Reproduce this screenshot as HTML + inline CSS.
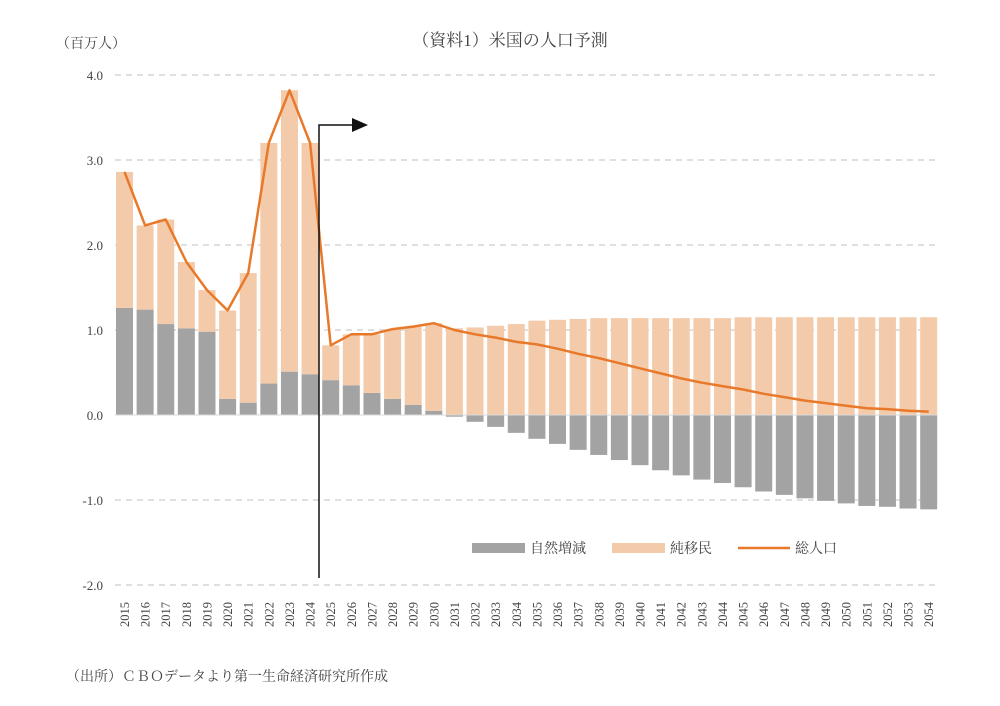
<!DOCTYPE html>
<html><head><meta charset="utf-8">
<style>
html,body{margin:0;padding:0;background:#fff;}
svg{display:block;}
text{font-family:"Liberation Serif","Noto Serif CJK SC","Noto Serif CJK JP",serif;fill:#444;}
</style></head>
<body>
<svg id="c" width="1000" height="706" viewBox="0 0 1000 706" xmlns="http://www.w3.org/2000/svg">
<text x="510" y="46" font-size="17" text-anchor="middle">（資料1）米国の人口予測</text>
<text x="56" y="48" font-size="14">（百万人）</text>
<text x="66" y="681" font-size="14">（出所）ＣＢＯデータより第一生命経済研究所作成</text>
<g id="g"></g>
<rect x="472" y="543" width="53" height="10" fill="#a3a3a3"/>
<text x="530" y="553" font-size="14">自然増減</text>
<rect x="612" y="543" width="53" height="10" fill="#f4cbaa"/>
<text x="670" y="553" font-size="14">純移民</text>
<line x1="738" y1="548" x2="790" y2="548" stroke="#e8792b" stroke-width="2.5"/>
<text x="795" y="553" font-size="14">総人口</text>
</svg>
<script>
var NS="http://www.w3.org/2000/svg",g=document.getElementById('g');
function el(t,a,txt){var e=document.createElementNS(NS,t);for(var k in a)e.setAttribute(k,a[k]);if(txt!=null)e.textContent=txt;g.appendChild(e);return e;}
var Y0=415,S=85,X0=124.5,D=20.62,W=17;
function y(v){return Y0-v*S;}
[4,3,2,1,-1,-2].forEach(function(v){el('line',{x1:115,x2:937,y1:y(v),y2:y(v),stroke:'#ccc','stroke-width':1.2,'stroke-dasharray':'6,5'});
 el('text',{x:103,y:y(v)+5,'font-size':13,'text-anchor':'end'},(v<0?'-':'')+Math.abs(v).toFixed(1));});
el('text',{x:103,y:y(0)+5,'font-size':13,'text-anchor':'end'},'0.0');
var nat=[1.26,1.24,1.07,1.02,0.98,0.19,0.145,0.37,0.51,0.48,0.41,0.35,0.26,0.19,0.12,0.05,
-0.02,-0.08,-0.14,-0.21,-0.28,-0.34,-0.41,-0.47,-0.53,-0.59,-0.65,-0.71,-0.76,-0.80,-0.85,-0.90,-0.94,-0.98,-1.01,-1.04,-1.07,-1.08,-1.10,-1.11];
var tot=[2.86,2.23,2.30,1.80,1.47,1.23,1.67,3.20,3.82,3.20,0.82,0.95,0.95,1.01,1.04,1.08];
var mig=[];
for(var i=0;i<40;i++){
 if(i<16) mig.push(tot[i]-nat[i]);
 else {var m=[1.02,1.03,1.05,1.07,1.11,1.12,1.13][i-16]; mig.push(m!=null?m:(i<30?1.14:1.15)); tot.push(mig[i]+nat[i]);}
}
for(var i=0;i<40;i++){
 var cx=X0+i*D,x=cx-W/2;
 if(nat[i]>=0){
  el('rect',{x:x,y:y(nat[i]),width:W,height:nat[i]*S,fill:'#a3a3a3'});
  el('rect',{x:x,y:y(tot[i]),width:W,height:(tot[i]-nat[i])*S,fill:'#f4cbaa'});
 }else{
  el('rect',{x:x,y:y(0),width:W,height:-nat[i]*S,fill:'#a3a3a3'});
  el('rect',{x:x,y:y(mig[i]),width:W,height:mig[i]*S,fill:'#f4cbaa'});
 }
 el('text',{x:0,y:0,'font-size':12.5,transform:'translate('+(cx+4.5)+',627) rotate(-90)'},String(2015+i));
}
el('line',{x1:115,x2:937,y1:Y0,y2:Y0,stroke:'#d8d8d8','stroke-width':1});
var p=[];for(var i=0;i<40;i++)p.push((X0+i*D).toFixed(1)+','+y(tot[i]).toFixed(1));
el('polyline',{points:p.join(' '),fill:'none',stroke:'#e8792b','stroke-width':2.5,'stroke-linejoin':'round'});
el('polyline',{points:'319,578 319,125 355,125',fill:'none',stroke:'#111','stroke-width':1.5});
el('polygon',{points:'352,118 368,125 352,132',fill:'#111'});
</script>
</body></html>
